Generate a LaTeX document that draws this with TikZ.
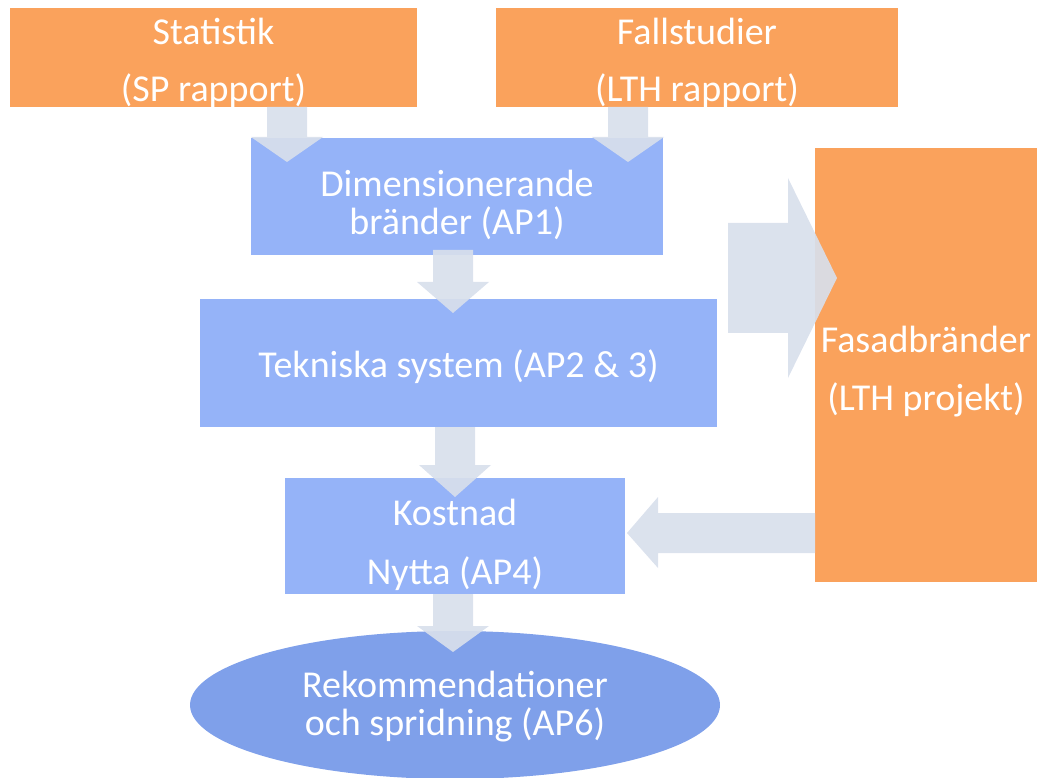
\documentclass[tikz,border=0pt]{standalone}
\usepackage{fontspec}
\setmainfont{Carlito}
\usetikzlibrary{shapes.geometric}
\definecolor{orangebox}{RGB}{250,162,92}
\definecolor{bluebox}{RGB}{149,179,248}
\definecolor{blueell}{RGB}{127,160,234}
\definecolor{arrowfill}{RGB}{216,223,236}
\newcommand\dnarrow[4]{%
  \fill[arr] ({#1-20},#2) -- ({#1+20},#2) -- ({#1+20},#3) -- ({#1+36},#3) -- (#1,#4) -- ({#1-36},#3) -- ({#1-20},#3) -- cycle;}
\tikzset{
  box/.style={rectangle, inner sep=0pt},
  orbox/.style={box, fill=orangebox},
  blbox/.style={box, fill=bluebox},
  lbl/.style={text=white, align=center, inner sep=0pt},
  arr/.style={fill=arrowfill, fill opacity=0.92},
}
\begin{document}
\begin{tikzpicture}[x=1pt,y=-1pt]
\useasboundingbox (0,0) rectangle (1037,778);
% boxes
\node[orbox, minimum width=407pt, minimum height=99pt] (stat) at (213.5,57.5) {};
\node[lbl, font=\fontsize{38}{57}\selectfont] (stattxt) at (213.5,63) {Statistik\\(SP rapport)};
\node[orbox, minimum width=402pt, minimum height=99pt] (fall) at (697,57.5) {};
\node[lbl, font=\fontsize{38}{57}\selectfont] (falltxt) at (697,63) {Fallstudier\\(LTH rapport)};
\node[blbox, minimum width=412pt, minimum height=117pt] (ap1) at (457,196.5) {};
\node[lbl, font=\fontsize{38}{38}\selectfont] (ap1txt) at (457,205) {Dimensionerande\\bränder (AP1)};
\node[blbox, minimum width=517pt, minimum height=128pt] (tek) at (458.5,363) {};
\node[lbl, font=\fontsize{38}{40}\selectfont] (tektxt) at (458.5,367) {Tekniska system (AP2 \& 3)};
\node[blbox, minimum width=340pt, minimum height=116pt] (kost) at (455,536) {};
\node[lbl, font=\fontsize{38}{59}\selectfont] (kosttxt) at (455,545) {Kostnad\\Nytta (AP4)};
\node[orbox, minimum width=222pt, minimum height=434pt] (fasad) at (926,365) {};
\node[lbl, font=\fontsize{38}{58}\selectfont] (fasadtxt) at (926,372) {Fasadbränder\\(LTH projekt)};
\node[ellipse, fill=blueell, inner sep=0pt, minimum width=530pt, minimum height=148pt] (rek) at (455,705) {};
\node[lbl, font=\fontsize{38}{38}\selectfont] (rektxt) at (455,707) {Rekommendationer\\och spridning (AP6)};
% block arrows
\dnarrow{287}{107}{137}{162}
\dnarrow{628}{107}{137}{162}
\dnarrow{453}{250}{282}{313}
\dnarrow{455}{427}{465}{497}
\dnarrow{453}{594}{626}{652}
% right arrow into Fasad
\fill[arr] (728,223) -- (788,223) -- (788,178) -- (837,278) -- (788,378) -- (788,333) -- (728,333) -- cycle;
% left arrow from Fasad to Kostnad
\fill[arr] (815,513) -- (658,513) -- (658,497) -- (627,533) -- (658,568) -- (658,553) -- (815,553) -- cycle;
\end{tikzpicture}
\end{document}
